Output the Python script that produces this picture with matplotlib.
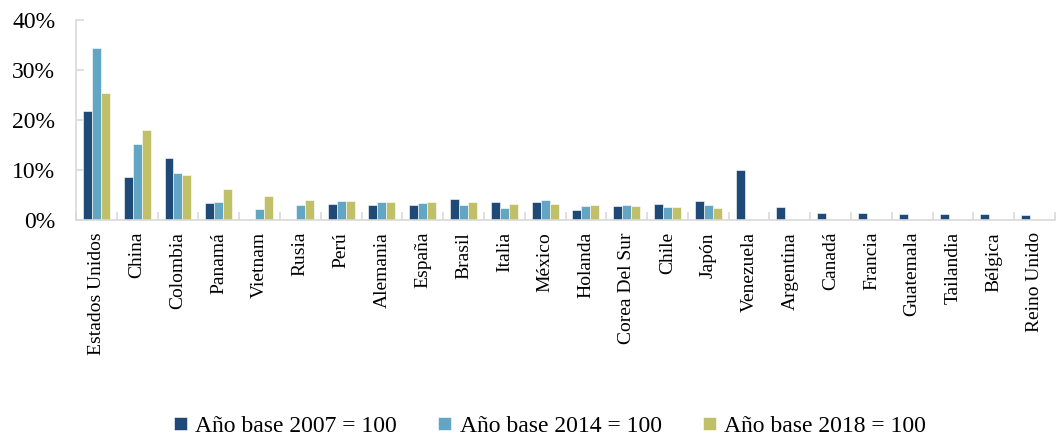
import numpy as np
import matplotlib.pyplot as plt
from matplotlib.ticker import FuncFormatter, FixedLocator

plt.rcParams['font.family'] = ['Liberation Serif', 'DejaVu Serif']

paises = ["Estados Unidos", "China", "Colombia", "Panamá", "Vietnam", "Rusia", "Perú",
          "Alemania", "España", "Brasil", "Italia", "México", "Holanda", "Corea Del Sur",
          "Chile", "Japón", "Venezuela", "Argentina", "Canadá", "Francia", "Guatemala",
          "Tailandia", "Bélgica", "Reino Unido"]

# participación (%)
base_2007 = [21.7, 8.5, 12.4, 3.3, 0, 0, 3.1, 3.0, 2.9, 4.2, 3.5, 3.5, 2.0, 2.7,
             3.2, 3.7, 9.9, 2.6, 1.3, 1.3, 1.2, 1.2, 1.2, 0.9]
base_2014 = [34.4, 15.2, 9.3, 3.5, 2.1, 2.9, 3.7, 3.5, 3.3, 2.9, 2.3, 3.9, 2.7, 2.9,
             2.5, 3.0, 0, 0, 0, 0, 0, 0, 0, 0]
base_2018 = [25.3, 17.9, 8.9, 6.2, 4.7, 3.9, 3.8, 3.6, 3.6, 3.5, 3.2, 3.1, 2.9, 2.7,
             2.5, 2.4, 0, 0, 0, 0, 0, 0, 0, 0]

series = [("Año base 2007 = 100", base_2007, "#1F4A78"),
          ("Año base 2014 = 100", base_2014, "#62A6C4"),
          ("Año base 2018 = 100", base_2018, "#BFC067")]

fig = plt.figure(figsize=(10.62, 4.37), dpi=100)
ax = fig.add_axes([76 / 1062, 1 - 219.5 / 437, (1055 - 76) / 1062, (219.5 - 19.5) / 437])

x = np.arange(len(paises))
w = 0.22
for i, (nombre, vals, color) in enumerate(series):
    ax.bar(x + (i - 1) * w, vals, width=w, color=color, label=nombre,
           edgecolor="white", linewidth=0.4)

ax.set_xlim(-0.5, len(paises) - 0.5)
ax.set_ylim(0, 40)
ax.yaxis.set_major_locator(FixedLocator([0, 10, 20, 30, 40]))
ax.yaxis.set_major_formatter(FuncFormatter(lambda v, p: f"{v:.0f}%"))
ax.set_xticks(x)
ax.set_xticklabels(paises, rotation=90, fontsize=14)
ax.set_xticks(np.arange(len(paises) + 1) - 0.5, minor=True)
ax.tick_params(axis="x", which="major", length=0, pad=9)
ax.tick_params(axis="x", which="minor", length=6, direction="in", color="#D9D9D9", width=1.2)
ax.tick_params(axis="y", labelsize=17, length=6, direction="in", color="#D9D9D9", width=1.2, pad=15)

for s in ["top", "right"]:
    ax.spines[s].set_visible(False)
for s in ["left", "bottom"]:
    ax.spines[s].set_color("#D9D9D9")
    ax.spines[s].set_linewidth(1.2)

fig.legend(loc="lower center", ncol=3, frameon=False, fontsize=17,
           bbox_to_anchor=(0.518, -0.048), handlelength=0.55, handleheight=0.5,
           handletextpad=0.35, columnspacing=1.75)

fig.savefig("out.png", dpi=100)
